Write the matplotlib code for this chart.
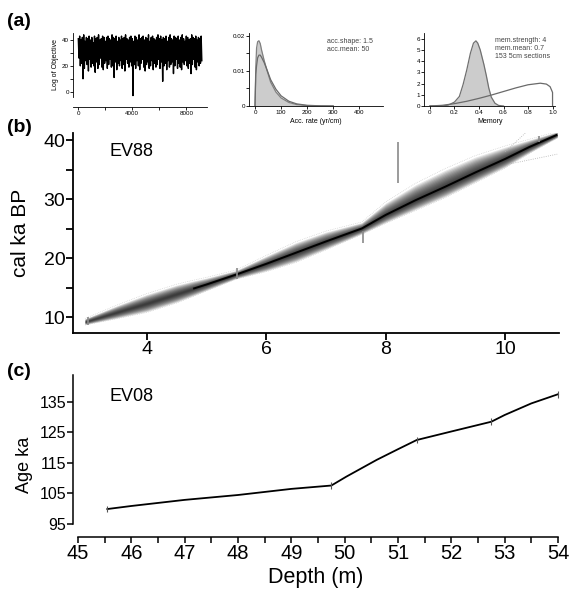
import matplotlib
matplotlib.use('Agg')
import matplotlib.pyplot as plt
import numpy as np
from matplotlib.ticker import FixedLocator, FuncFormatter

plt.rcParams['font.family'] = ['Liberation Sans', 'DejaVu Sans']

W, H = 569, 599

# ---- panel (a): MCMC trace (upper / lower swings, 100 iterations per pair)
trace_hi = [41, 43, 40, 42, 44, 39, 42, 41, 43, 40, 42, 38, 43, 41, 42, 44, 40, 41, 43, 42,
            39, 42, 43, 41, 40, 44, 42, 41, 43, 39, 42, 40, 43, 41, 42, 44, 41, 40, 42, 43,
            41, 39, 43, 42, 40, 44, 41, 42, 43, 40, 42, 41, 44, 39, 42, 43, 41, 40, 42, 44,
            41, 43, 40, 42, 41, 43, 39, 42, 44, 41, 40, 43, 42, 41, 43, 40, 42, 44, 41, 39,
            43, 42, 40, 41, 44, 42, 41, 43, 40, 42, 41, 43]
trace_lo = [26, 20, 22, 10, 18, 24, 21, 16, 25, 19, 22, 20, 15, 23, 18, 21, 26, 19, 17, 22,
            24, 18, 21, 25, 19, 20, 11, 23, 17, 22, 20, 24, 18, 21, 16, 25, 22, 19, 23, 20,
            -3, 21, 18, 24, 20, 17, 22, 25, 19, 16, 21, 23, 18, 20, 24, 17, 22, 19, 21, 25,
            18, 23, 8, 20, 22, 17, 24, 19, 21, 23, 14, 20, 25, 18, 22, 19, 17, 23, 21, 24,
            20, 18, 22, 14, 21, 25, 19, 17, 23, 20, 22, 24]

# accumulation rate: prior and posterior densities
acc_x = [0, 3, 6, 10, 15, 20, 25, 35, 45, 60, 80, 100, 130, 160, 200, 250, 300]
acc_prior = [0, 0.0090, 0.0115, 0.0137, 0.0145, 0.0145, 0.0139, 0.0124, 0.0105, 0.0075,
             0.0048, 0.0029, 0.00135, 0.0006, 0.0002, 0.00005, 0]
acc_post = [0, 0.0110, 0.0165, 0.0183, 0.0186, 0.0178, 0.0160, 0.0130, 0.0104, 0.0068,
            0.0040, 0.0023, 0.0010, 0.0004, 0.0001, 0.00002, 0]

# memory: prior and posterior densities
mem_x = [0, 0.1, 0.2, 0.3, 0.4, 0.5, 0.6, 0.7, 0.8, 0.9, 0.95, 0.98, 0.995, 1.0, 1.0]
mem_prior = [0, 0.06, 0.21, 0.42, 0.68, 0.97, 1.29, 1.61, 1.89, 2.03, 1.95, 1.72, 1.34, 1.2, 0]
memp_x = [0.0, 0.1, 0.15, 0.2, 0.24, 0.27, 0.3, 0.33, 0.355, 0.375, 0.39, 0.41, 0.44, 0.46,
          0.48, 0.5, 0.53, 0.56, 0.6]
memp_y = [0, 0.0, 0.08, 0.35, 0.85, 1.9, 3.2, 4.7, 5.6, 5.8, 5.6, 5.0, 3.7, 2.7, 1.6, 0.8,
          0.25, 0.05, 0]

# ---- panel (b): EV88 age-depth model
b_depth = [2.97, 3.5, 4.0, 4.5, 4.78, 5.0, 5.5, 6.0, 6.5, 7.0, 7.6, 8.0, 8.5, 9.0, 9.5,
           10.0, 10.4, 10.87]
b_age = [9.2, 10.8, 12.3, 13.9, 14.8, 15.5, 17.2, 19.0, 20.9, 22.8, 25.0, 27.3, 29.8, 32.1,
         34.5, 36.8, 38.8, 40.9]
b_up = [0.5, 1.1, 1.5, 1.5, 1.3, 1.1, 0.7, 1.3, 1.7, 1.6, 1.0, 2.0, 2.6, 2.8, 2.6, 2.0, 1.2, 0.5]
b_dn = [0.5, 1.0, 1.4, 1.4, 1.2, 1.0, 0.7, 1.2, 1.5, 1.3, 0.9, 1.3, 1.6, 1.7, 1.6, 1.4, 1.0, 0.5]
b_date_depth = [3.02, 5.52, 7.62, 8.2, 10.57]
b_date_lo = [8.6, 16.4, 22.5, 32.7, 39.6]
b_date_hi = [10.0, 18.3, 24.5, 39.7, 40.6]
b_updot_depth, b_updot_age = [10.0, 10.36], [38.0, 41.4]
b_lodot_depth, b_lodot_age = [10.1, 10.87], [36.0, 37.6]

# ---- panel (c): EV08
c_depth = [45.55, 46.0, 46.5, 47.0, 47.5, 48.0, 48.5, 49.0, 49.75, 50.03, 50.6, 51.0, 51.35,
           52.0, 52.75, 53.0, 53.5, 54.0]
c_age = [99.9, 100.9, 101.9, 102.9, 103.7, 104.5, 105.5, 106.5, 107.6, 110.5, 116.0, 119.5,
         122.5, 125.3, 128.5, 130.7, 134.5, 137.5]
c_tie_depth = [45.55, 49.75, 51.35, 52.75, 54.0]
c_tie_age = [99.9, 107.6, 122.5, 128.5, 137.5]


def rect(l, t, r, b):
    return [l / W, 1 - b / H, (r - l) / W, (b - t) / H]


def r_style(ax, size, tlen, lw=0.8):
    for s in ['top', 'right']:
        ax.spines[s].set_visible(False)
    for s in ['left', 'bottom']:
        ax.spines[s].set_linewidth(lw)
    ax.tick_params(which='both', direction='out', length=tlen, width=lw, labelsize=size, pad=1)
    ax.tick_params(which='minor', length=tlen)


fig = plt.figure(figsize=(W / 100, H / 100), dpi=100)

# (a1) trace
ax1 = fig.add_axes(rect(73, 33, 207, 97))
trace = np.column_stack([trace_hi, trace_lo]).ravel()
iters = np.arange(len(trace)) * 50
ax1.plot(iters, trace, color='k', lw=1.0)
ax1.set_xlim(-393, 9533)
ax1.set_ylim(-4.1, 45.4)
r_style(ax1, 4.5, 2, 0.6)
ax1.spines['bottom'].set_position(('outward', 7.2))
ax1.xaxis.set_major_locator(FixedLocator([0, 4000, 8000]))
ax1.xaxis.set_minor_locator(FixedLocator([2000, 6000]))
ax1.yaxis.set_major_locator(FixedLocator([0, 20, 40]))
ax1.yaxis.set_minor_locator(FixedLocator([10, 30]))
ax1.set_ylabel('Log of Objective', fontsize=5, labelpad=2)

# (a2) acc rate
ax2 = fig.add_axes(rect(249.3, 33, 383, 106))
ax2.fill_between(acc_x, acc_post, color='#cccccc', lw=0)
ax2.plot(acc_x, acc_post, color='#808080', lw=0.9)
ax2.plot(acc_x, acc_prior, color='#6a6a6a', lw=0.9)
ax2.set_xlim(-21.9, 491)
ax2.set_ylim(0, 0.0208)
r_style(ax2, 4.5, 2, 0.6)
ax2.xaxis.set_major_locator(FixedLocator([0, 100, 200, 300, 400]))
ax2.yaxis.set_major_locator(FixedLocator([0, 0.01, 0.02]))
ax2.yaxis.set_minor_locator(FixedLocator([0.005, 0.015]))
ax2.yaxis.set_major_formatter(FuncFormatter(lambda v, p: '0' if v == 0 else '%g' % v))
ax2.set_xlabel('Acc. rate (yr/cm)', fontsize=5, labelpad=2)
ax2.text(0.58, 0.83, 'acc.shape: 1.5\nacc.mean: 50', transform=ax2.transAxes,
         fontsize=5, color='#444444', va='center', linespacing=1.3)

# (a3) memory
ax3 = fig.add_axes(rect(424.3, 33, 555, 106))
ax3.fill_between(memp_x, memp_y, color='#cccccc', lw=0)
ax3.plot(memp_x, memp_y, color='#707070', lw=0.9)
ax3.plot(mem_x, mem_prior, color='#6a6a6a', lw=0.9)
ax3.set_xlim(-0.046, 1.02)
ax3.set_ylim(0, 6.5)
r_style(ax3, 4.5, 2, 0.6)
ax3.xaxis.set_major_locator(FixedLocator([0, 0.2, 0.4, 0.6, 0.8, 1.0]))
ax3.xaxis.set_major_formatter(FuncFormatter(lambda v, p: '0' if v == 0 else '%.1f' % v))
ax3.yaxis.set_major_locator(FixedLocator([0, 1, 2, 3, 4, 5, 6]))
ax3.set_xlabel('Memory', fontsize=5, labelpad=2)
ax3.text(0.54, 0.79, 'mem.strength: 4\nmem.mean: 0.7\n153 5cm sections', transform=ax3.transAxes,
         fontsize=5, color='#444444', va='center', linespacing=1.25)

# (b) EV88
axb = fig.add_axes(rect(73, 133, 559, 333))
d = np.array(b_depth)
a = np.array(b_age)
up = np.array(b_up)
dn = np.array(b_dn)
for f in np.linspace(1.0, 0.1, 12):
    axb.fill_between(d, a - dn * f, a + up * f, color='k', alpha=0.11, lw=0)
axb.plot(d, a + up * 1.1, color='#c8c8c8', lw=0.5, ls=':')
axb.plot(d, a - dn * 1.1, color='#c8c8c8', lw=0.5, ls=':')
axb.plot(b_updot_depth, b_updot_age, color='#b0b0b0', lw=0.6, ls=':')
axb.plot(b_lodot_depth, b_lodot_age, color='#b0b0b0', lw=0.6, ls=':')
m = d >= 4.78
axb.plot(d[m], a[m], color='k', lw=1.4, solid_capstyle='butt')
axb.vlines(b_date_depth, b_date_lo, b_date_hi, color='#8a8a8a', lw=1.2)
axb.set_xlim(2.77, 10.9)
axb.set_ylim(7.29, 41.19)
r_style(axb, 14, 5, 1.3)
axb.tick_params(axis='both', pad=0.5)
axb.xaxis.set_major_locator(FixedLocator([4, 6, 8, 10]))
axb.yaxis.set_major_locator(FixedLocator([10, 20, 30, 40]))
axb.yaxis.set_minor_locator(FixedLocator([15, 25, 35]))
axb.set_ylabel('cal ka BP', fontsize=15)
axb.yaxis.set_label_coords(-0.088, 0.5)
axb.text(0.076, 0.905, 'EV88', transform=axb.transAxes, fontsize=13, va='center')

# (c) EV08
axc = fig.add_axes(rect(73, 375, 558, 524))
axc.plot(c_depth, c_age, color='k', lw=1.3, clip_on=False)
axc.vlines(c_tie_depth, np.array(c_tie_age) - 1.1, np.array(c_tie_age) + 1.1,
           color='#555555', lw=0.8, clip_on=False)
axc.set_xlim(44.906, 54.0)
axc.set_ylim(95, 143.8)
r_style(axc, 11.5, 4, 1.1)
axc.spines['bottom'].set_position(('outward', 9.4))
axc.spines['bottom'].set_bounds(45, 54)
axc.tick_params(axis='x', labelsize=14.5, pad=1)
axc.xaxis.set_major_locator(FixedLocator(list(range(45, 55))))
axc.xaxis.set_minor_locator(FixedLocator([v + 0.5 for v in range(45, 54)]))
axc.yaxis.set_major_locator(FixedLocator([95, 105, 115, 125, 135]))
axc.set_ylabel('Age ka', fontsize=13)
axc.yaxis.set_label_coords(-0.082, 0.40)
axc.set_xlabel('Depth (m)', fontsize=15.5, labelpad=3)
axc.text(0.076, 0.859, 'EV08', transform=axc.transAxes, fontsize=13, va='center')

# panel letters
for lab, x, y in [('(a)', 7, 21), ('(b)', 7, 127), ('(c)', 7, 372)]:
    fig.text(x / W, 1 - y / H, lab, fontsize=14, fontweight='bold', va='center', ha='left')

fig.savefig('out.png', dpi=100)
